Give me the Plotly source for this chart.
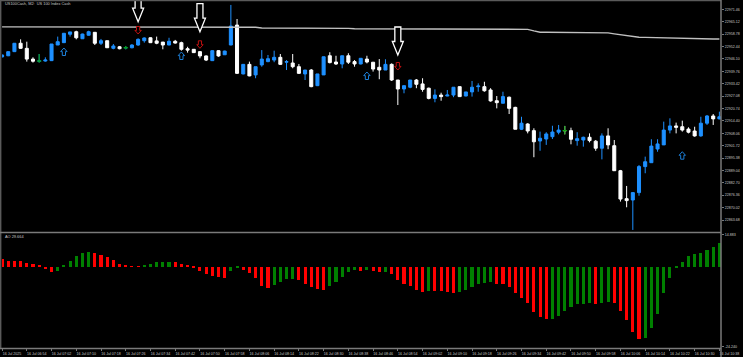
import plotly.graph_objects as go

# ---------------- data ----------------
BARS = list(range(117))  # 2-minute bars, 16 Jul 06:46 ... 10:38

OPEN = [22947.1, 22947.7, 22949.8, 22954.1, 22951.5, 22946.0, 22945.0, 22945.0, 22945.2, 22953.2,
        22954.4, 22958.7, 22960.0, 22956.4, 22958.2, 22959.7, 22954.1, 22955.4, 22951.5, 22952.3,
        22951.8, 22951.8, 22953.2, 22955.4, 22956.9, 22955.3, 22954.7, 22953.2, 22955.1, 22954.4,
        22951.3, 22951.0, 22949.8, 22947.6, 22945.2, 22950.3, 22948.2, 22953.2, 22963.4, 22938.4,
        22943.3, 22937.9, 22943.0, 22944.7, 22945.5, 22946.9, 22944.4, 22944.0, 22942.1, 22938.4,
        22940.4, 22932.4, 22937.9, 22947.7, 22944.5, 22943.5, 22947.7, 22944.7, 22943.5, 22946.0,
        22944.4, 22941.8, 22940.4, 22943.3, 22935.3, 22930.7, 22931.6, 22935.3, 22933.3, 22931.1,
        22925.9, 22927.6, 22927.1, 22927.6, 22931.9, 22927.1, 22929.2, 22931.9, 22931.9, 22930.2,
        22924.7, 22923.4, 22926.5, 22921.3, 22910.1, 22912.8, 22909.4, 22904.1, 22905.1, 22906.3,
        22908.6, 22909.4, 22909.4, 22904.3, 22904.6, 22906.0, 22904.0, 22900.4, 22906.7, 22901.7,
        22888.9, 22874.6, 22873.9, 22877.7, 22891.0, 22893.0, 22900.0, 22902.1, 22909.7, 22911.8,
        22911.4, 22910.2, 22909.2, 22906.7, 22913.2, 22916.9, 22915.4]
HIGH = [22948.3, 22949.9, 22954.2, 22956.1, 22954.9, 22946.9, 22948.6, 22946.9, 22953.7, 22957.5,
        22959.2, 22959.9, 22960.5, 22959.0, 22960.5, 22959.7, 22956.3, 22955.4, 22953.7, 22952.7,
        22952.7, 22953.6, 22956.6, 22957.1, 22957.1, 22957.5, 22954.7, 22956.9, 22955.8, 22954.9,
        22952.3, 22951.0, 22950.1, 22947.9, 22950.5, 22950.6, 22950.3, 22973.7, 22966.5, 22943.5,
        22944.7, 22942.1, 22950.6, 22948.1, 22950.3, 22948.6, 22945.5, 22948.6, 22943.5, 22940.4,
        22940.9, 22938.4, 22947.2, 22949.5, 22947.7, 22947.7, 22949.0, 22945.5, 22946.4, 22947.7,
        22944.4, 22946.0, 22945.9, 22943.8, 22935.3, 22932.4, 22935.3, 22935.8, 22936.2, 22931.4,
        22930.5, 22928.8, 22930.2, 22931.6, 22931.9, 22929.2, 22934.8, 22933.6, 22934.4, 22931.1,
        22927.1, 22929.3, 22926.8, 22921.6, 22916.5, 22913.2, 22910.6, 22908.9, 22908.6, 22911.9,
        22912.3, 22911.8, 22910.9, 22908.6, 22906.3, 22908.0, 22904.6, 22908.0, 22910.6, 22904.6,
        22889.3, 22881.1, 22877.7, 22891.8, 22896.1, 22905.0, 22905.0, 22914.0, 22915.7, 22913.5,
        22914.5, 22911.1, 22911.4, 22916.5, 22917.4, 22917.9, 22919.1]
LOW = [22946.9, 22947.5, 22949.6, 22951.3, 22944.7, 22944.2, 22944.2, 22944.7, 22945.0, 22953.2,
       22954.2, 22957.5, 22956.1, 22956.3, 22958.0, 22953.2, 22953.2, 22951.7, 22951.0, 22951.0,
       22951.0, 22951.5, 22952.8, 22954.4, 22954.2, 22953.6, 22951.0, 22953.1, 22953.9, 22950.3,
       22949.3, 22949.1, 22946.4, 22945.0, 22945.0, 22947.2, 22948.1, 22953.1, 22938.4, 22938.2,
       22937.2, 22936.2, 22942.1, 22944.4, 22944.4, 22943.0, 22940.4, 22941.3, 22938.4, 22935.3,
       22931.6, 22932.2, 22937.9, 22943.8, 22943.0, 22941.3, 22943.5, 22942.1, 22943.3, 22943.8,
       22939.6, 22935.7, 22940.4, 22934.8, 22922.5, 22928.5, 22931.1, 22931.1, 22929.3, 22925.4,
       22923.9, 22924.7, 22927.0, 22926.5, 22926.6, 22927.0, 22926.8, 22929.3, 22929.3, 22924.2,
       22920.8, 22923.4, 22917.9, 22910.1, 22909.7, 22908.0, 22895.8, 22899.1, 22902.1, 22905.1,
       22907.5, 22907.5, 22902.4, 22901.7, 22901.2, 22903.4, 22899.1, 22894.7, 22899.9, 22888.8,
       22873.1, 22870.2, 22858.6, 22876.1, 22887.6, 22893.0, 22898.6, 22902.1, 22908.0, 22908.0,
       22908.9, 22908.0, 22906.3, 22906.3, 22912.3, 22912.3, 22915.2]
CLOSE = [22948.1, 22949.8, 22954.1, 22951.5, 22946.0, 22944.9, 22945.0, 22945.5, 22953.7, 22954.9,
         22959.2, 22959.9, 22956.9, 22958.8, 22960.0, 22954.1, 22955.4, 22951.8, 22952.7, 22951.3,
         22951.8, 22953.2, 22956.1, 22956.8, 22954.4, 22954.1, 22953.2, 22955.1, 22954.2, 22951.0,
         22950.6, 22949.3, 22947.6, 22945.5, 22950.3, 22947.6, 22950.1, 22962.9, 22938.7, 22943.3,
         22937.4, 22942.1, 22946.0, 22946.2, 22946.9, 22943.3, 22944.7, 22942.1, 22938.7, 22940.4,
         22931.9, 22938.4, 22947.2, 22944.2, 22943.5, 22947.7, 22944.4, 22943.5, 22946.4, 22944.5,
         22940.9, 22940.4, 22943.3, 22935.3, 22930.7, 22932.4, 22935.3, 22933.1, 22930.5, 22925.9,
         22927.6, 22926.8, 22927.6, 22931.6, 22926.8, 22929.2, 22931.6, 22932.2, 22929.8, 22924.6,
         22923.7, 22926.8, 22920.8, 22910.1, 22913.2, 22909.2, 22903.7, 22905.5, 22907.7, 22908.7,
         22909.7, 22909.4, 22905.0, 22905.3, 22906.0, 22904.3, 22900.4, 22906.7, 22902.1, 22888.9,
         22874.4, 22873.6, 22877.7, 22891.0, 22893.5, 22901.5, 22902.6, 22909.7, 22911.8, 22911.1,
         22909.7, 22908.6, 22906.7, 22913.2, 22916.9, 22915.4, 22916.5]

# slow moving average (grey line)
MA = [22962.5] * 21 + [22962.4] * 20 + [22962.3] + [22961.9] * 6 + [22961.7] * 9 + \
     [22961.5] * 10 + [22961.4] * 10 + [22961.2] * 9 + [22960.4] + [22959.7] * 11 + \
     [22959.4, 22958.9, 22958.4, 22957.9, 22957.5, 22957.2, 22957.1, 22957.0, 22956.9, 22956.9,
      22956.8, 22956.7, 22956.6, 22956.6, 22956.5, 22956.4, 22956.4, 22956.3, 22956.3]

# Awesome Oscillator histogram
AO = [3.55, 2.52, 2.52, 2.37, 1.78, 1.18, 0.44, -1.04, -2.37, -1.78,
      0.30, 2.37, 4.59, 5.92, 6.51, 6.22, 5.03, 4.15, 2.81, 1.33,
      0.59, 0.20, 0.05, 0.44, 1.33, 2.07, 2.15, 2.20, 1.92, 1.18,
      0.44, -0.44, -1.78, -3.41, -4.29, -4.74, -5.03, -2.07, -0.59, -1.48,
      -2.96, -5.03, -8.59, -9.62, -8.29, -6.96, -5.77, -5.63, -6.07, -7.70,
      -9.18, -9.92, -10.36, -8.74, -6.81, -4.74, -2.37, -1.48, -1.78, -1.48,
      -1.78, -2.52, -2.37, -3.26, -5.92, -7.70, -8.88, -10.51, -11.25, -10.66,
      -10.81, -10.96, -11.40, -11.84, -11.25, -10.51, -9.18, -7.99, -7.11, -6.81,
      -7.55, -7.85, -9.03, -11.70, -14.21, -16.14, -20.14, -22.65, -23.39, -23.10,
      -22.06, -19.69, -17.92, -16.73, -16.44, -16.14, -16.58, -16.29, -15.84, -16.14,
      -19.84, -23.69, -29.02, -31.98, -31.69, -27.10, -20.88, -11.70, -5.18, -0.74,
      2.22, 4.74, 5.77, 6.22, 7.55, 8.59, 10.51]

# signal arrows: bar index and tip price
BUY_ARROW_BAR = [10, 29, 59, 110]
BUY_ARROW_TIP = [22951.67, 22949.62, 22939.39, 22898.63]
SELL_ARROW_BAR = [22, 32, 64]
SELL_ARROW_TIP = [22958.83, 22951.51, 22940.41]
MARK_ARROW_BAR = [22, 32, 64]
MARK_ARROW_TIP = [22965.12, 22960.01, 22948.09]

# axis labels
PRICE_TICKS = [22971.46, 22965.12, 22958.78, 22952.44, 22946.10, 22939.76, 22933.42, 22927.08,
               22920.74, 22914.40, 22908.06, 22901.72, 22895.38, 22889.04, 22882.70, 22876.36,
               22870.02, 22863.68]
TIME_TICK_BARS = list(range(0, 117, 4))
TIME_TICK_TEXT = ["16 Jul 2025", "16 Jul 06:54", "16 Jul 07:02", "16 Jul 07:10", "16 Jul 07:18",
                  "16 Jul 07:26", "16 Jul 07:34", "16 Jul 07:42", "16 Jul 07:50", "16 Jul 07:58",
                  "16 Jul 08:06", "16 Jul 08:14", "16 Jul 08:22", "16 Jul 08:30", "16 Jul 08:38",
                  "16 Jul 08:46", "16 Jul 08:54", "16 Jul 09:02", "16 Jul 09:10", "16 Jul 09:18",
                  "16 Jul 09:26", "16 Jul 09:34", "16 Jul 09:42", "16 Jul 09:50", "16 Jul 09:58",
                  "16 Jul 10:06", "16 Jul 10:14", "16 Jul 10:22", "16 Jul 10:30", "16 Jul 10:38"]
AO_TICK_TEXT = ["14.883", "-24.240"]
TITLE = "US100Cash, M2:  US 100 Index Cash"
AO_LABEL = "AO 29.664"

# ---------------- layout geometry ----------------
W, H = 743, 357
ML, MR, MT, MB = 2, 22, 1, 9
PW, PH = W - ML - MR, H - MT - MB
X_RANGE = [-0.01, 116.26]
Y_RANGE = [22857.55, 22975.71]
AO_RANGE = [-36.2, 14.883]
MAIN_DOM = [0.3343, 1.0]
AO_DOM = [0.0, 0.3314]
PX_PER_BAR = PW / (X_RANGE[1] - X_RANGE[0])
PRICE_PER_PX = (Y_RANGE[1] - Y_RANGE[0]) / (PH * (MAIN_DOM[1] - MAIN_DOM[0]))

BLUE = "#1e90ff"
WHITE = "#ffffff"
GREEN = "#00a000"
AO_GREEN = "#008000"
AO_RED = "#ff0000"
TXT = "#c8c8c8"
FRAME = "#7a7a7a"
FONT = "Liberation Sans, Arial, sans-serif"

fig = go.Figure()

fig.add_trace(go.Scatter(x=BARS, y=MA, mode="lines", line=dict(color="#c0c0c0", width=1.4),
                         xaxis="x", yaxis="y", hoverinfo="skip", showlegend=False))

fig.add_trace(go.Candlestick(
    x=BARS, open=OPEN, high=HIGH, low=LOW, close=CLOSE,
    increasing=dict(line=dict(color=BLUE, width=1), fillcolor=BLUE),
    decreasing=dict(line=dict(color=WHITE, width=1), fillcolor=WHITE),
    whiskerwidth=0, xaxis="x", yaxis="y", showlegend=False, hoverinfo="skip"))

# doji crosses (open == close) in green
dx, dy = [], []
for i, o, h, l, c in zip(BARS, OPEN, HIGH, LOW, CLOSE):
    if o == c:
        dx += [i, i, None, i - 0.38, i + 0.38, None]
        dy += [h, l, None, c, c, None]
fig.add_trace(go.Scatter(x=dx, y=dy, mode="lines", line=dict(color=GREEN, width=1),
                         xaxis="x", yaxis="y", hoverinfo="skip", showlegend=False))

ao_colors = [AO_GREEN if (k > 0 and AO[k] > AO[k - 1]) else AO_RED for k in range(len(AO))]
fig.add_trace(go.Bar(x=BARS, y=AO, width=0.5, marker=dict(color=ao_colors, line=dict(width=0)),
                     xaxis="x2", yaxis="y2", hoverinfo="skip", showlegend=False))


def arrow_path(bar, tip, up, hw, sw, hh, length):
    s = -1 if up else 1  # tail direction in screen-up pixels
    pts = [(0, 0), (hw, s * hh), (sw, s * hh), (sw, s * length), (-sw, s * length),
           (-sw, s * hh), (-hw, s * hh)]
    segs = []
    for k, (qx, qy) in enumerate(pts):
        xv = bar + qx / PX_PER_BAR
        yv = tip + qy * PRICE_PER_PX
        segs.append(("M" if k == 0 else "L") + f"{xv:.4f},{yv:.4f}")
    return " ".join(segs) + " Z"


shapes = []
for b, t in zip(MARK_ARROW_BAR, MARK_ARROW_TIP):
    shapes.append(dict(type="path", xref="x", yref="y", path=arrow_path(b, t, False, 5.5, 3.0, 13.5, 28),
                       line=dict(color=WHITE, width=1.3), fillcolor="black", layer="above"))
for b, t in zip(SELL_ARROW_BAR, SELL_ARROW_TIP):
    shapes.append(dict(type="path", xref="x", yref="y", path=arrow_path(b, t, False, 3.2, 1.6, 3.6, 7.5),
                       line=dict(color="#c01010", width=1), fillcolor="black", layer="above"))
for b, t in zip(BUY_ARROW_BAR, BUY_ARROW_TIP):
    shapes.append(dict(type="path", xref="x", yref="y", path=arrow_path(b, t, True, 3.2, 1.6, 3.6, 7.5),
                       line=dict(color="#1c7fd8", width=1), fillcolor="black", layer="above"))


# frame lines
def py(p):
    return (H - MB - p) / PH


def px(p):
    return (p - ML) / PW


shapes += [
    dict(type="line", xref="paper", yref="paper", x0=px(0), x1=px(721), y0=py(0.6), y1=py(0.6),
         line=dict(color="#5a5a5a", width=1.2)),
    dict(type="line", xref="paper", yref="paper", x0=px(0.7), x1=px(0.7), y0=py(0), y1=py(349),
         line=dict(color="#5a5a5a", width=1.4)),
    dict(type="line", xref="paper", yref="paper", x0=px(0), x1=px(721), y0=py(232.4), y1=py(232.4),
         line=dict(color=FRAME, width=1.5)),
    dict(type="line", xref="paper", yref="paper", x0=px(0), x1=px(721), y0=py(348.4), y1=py(348.4),
         line=dict(color=FRAME, width=1.5)),
    dict(type="line", xref="paper", yref="paper", x0=px(721), x1=px(721), y0=py(0), y1=py(357),
         line=dict(color=FRAME, width=1.5)),
]

annotations = [
    dict(text=TITLE, xref="paper", yref="paper", x=px(3), y=py(3.6), xanchor="left", yanchor="middle",
         showarrow=False, font=dict(size=3.9, color=TXT, family=FONT)),
    dict(text=AO_LABEL, xref="paper", yref="paper", x=px(3), y=py(236.6), xanchor="left", yanchor="middle",
         showarrow=False, font=dict(size=3.9, color=TXT, family=FONT)),
]

tickfont = dict(size=3.6, color=TXT, family=FONT)
fig.update_layout(
    width=W, height=H, margin=dict(l=ML, r=MR, t=MT, b=MB),
    paper_bgcolor="black", plot_bgcolor="black", showlegend=False,
    shapes=shapes, annotations=annotations, bargap=0,
    xaxis=dict(domain=[0, 1], anchor="y", range=X_RANGE, showticklabels=False, showgrid=False,
               zeroline=False, showline=False, ticks="", rangeslider=dict(visible=False)),
    xaxis2=dict(domain=[0, 1], anchor="y2", matches="x", range=X_RANGE, tickmode="array",
                tickvals=TIME_TICK_BARS, ticktext=TIME_TICK_TEXT, tickfont=tickfont, ticks="outside",
                ticklen=2, tickcolor=FRAME, ticklabelshift=10, showgrid=False, zeroline=False,
                showline=False, tickangle=0),
    yaxis=dict(domain=MAIN_DOM, anchor="x", side="right", range=Y_RANGE, tickmode="array",
               tickvals=PRICE_TICKS, ticktext=[f"{v:.2f}" for v in PRICE_TICKS], tickfont=tickfont,
               ticks="outside", ticklen=2, tickcolor=FRAME, showgrid=False, zeroline=False, showline=False),
    yaxis2=dict(domain=AO_DOM, anchor="x2", side="right", range=AO_RANGE, tickmode="array",
                tickvals=[14.0, -35.6], ticktext=AO_TICK_TEXT, tickfont=tickfont, ticks="outside",
                ticklen=2, tickcolor=FRAME, showgrid=False, zeroline=False, showline=False),
)

fig.write_html("out.html")
